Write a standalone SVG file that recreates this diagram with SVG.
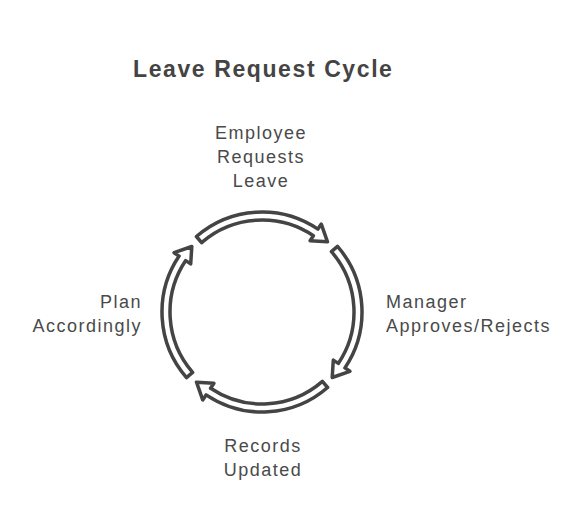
<svg xmlns="http://www.w3.org/2000/svg" width="588" height="528" viewBox="0 0 588 528">
<style>
.title{font-family:"Liberation Sans",Arial,sans-serif;font-size:23px;font-weight:bold;fill:#444;letter-spacing:1.6px}
.lbl{font-family:"Liberation Sans",Arial,sans-serif;font-size:18px;fill:#4a4a4a;letter-spacing:1.5px}
.arrow{fill:#fff;stroke:#444;stroke-width:3.5;stroke-linejoin:round}
</style>
<defs>
<path id="arc" class="arrow" d="M196.4,236.5 A100,100 0 0 1 317.9,229.1 L321.3,224.1 L327.5,241.8 L310.1,240.7 L313.4,235.7 A92,92 0 0 0 201.6,242.6 Z"/>
</defs>
<rect width="588" height="528" fill="#fff"/>
<text class="title" x="133" y="77">Leave Request Cycle</text>
<g id="connectors">
<use href="#arc"/>
<use href="#arc" transform="rotate(90 262 312)"/>
<use href="#arc" transform="rotate(180 262 312)"/>
<use href="#arc" transform="rotate(270 262 312)"/>
</g>
<g id="employee-requests-leave">
<text class="lbl" text-anchor="middle" x="261" y="139">Employee</text>
<text class="lbl" text-anchor="middle" x="261" y="163">Requests</text>
<text class="lbl" text-anchor="middle" x="261" y="187">Leave</text>
</g>
<g id="manager-approves-rejects">
<text class="lbl" x="386" y="308">Manager</text>
<text class="lbl" x="386" y="332">Approves/Rejects</text>
</g>
<g id="records-updated">
<text class="lbl" text-anchor="middle" x="263" y="452">Records</text>
<text class="lbl" text-anchor="middle" x="263" y="476">Updated</text>
</g>
<g id="plan-accordingly">
<text class="lbl" text-anchor="end" x="142" y="308">Plan</text>
<text class="lbl" text-anchor="end" x="142" y="332">Accordingly</text>
</g>
</svg>
